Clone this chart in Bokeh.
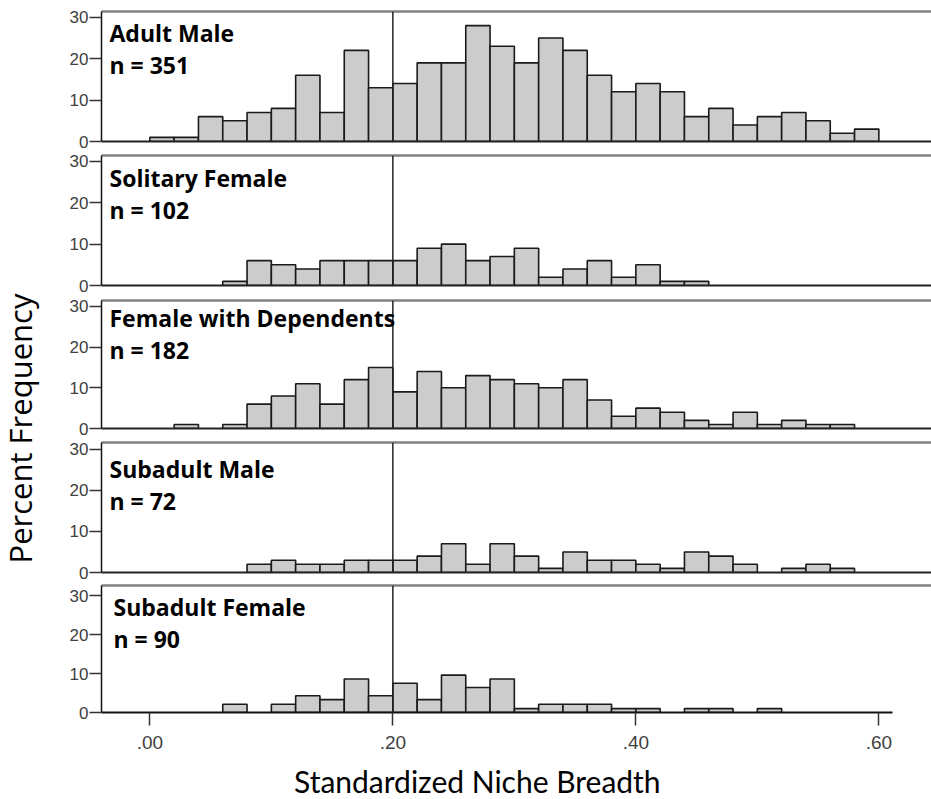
import math
from bokeh.plotting import figure
from bokeh.layouts import column, row
from bokeh.models import Range1d, Span, Label, LinearAxis, FixedTicker, ColumnDataSource
from bokeh.embed import file_html
from bokeh.resources import INLINE

# ---------------- data ----------------
BIN_START = [0.00, 0.02, 0.04, 0.06, 0.08, 0.10, 0.12, 0.14, 0.16, 0.18,
             0.20, 0.22, 0.24, 0.26, 0.28, 0.30, 0.32, 0.34, 0.36, 0.38,
             0.40, 0.42, 0.44, 0.46, 0.48, 0.50, 0.52, 0.54, 0.56, 0.58]
BIN_WIDTH = 0.02

GROUPS = ["Adult Male", "Solitary Female", "Female with Dependents",
          "Subadult Male", "Subadult Female"]
N_LABELS = ["n = 351", "n = 102", "n = 182", "n = 72", "n = 90"]

ADULT_MALE = [1, 1, 6, 5, 7, 8, 16, 7, 22, 13, 14, 19, 19, 28, 23,
              19, 25, 22, 16, 12, 14, 12, 6, 8, 4, 6, 7, 5, 2, 3]
SOLITARY_FEMALE = [0, 0, 0, 1, 6, 5, 4, 6, 6, 6, 6, 9, 10, 6, 7,
                   9, 2, 4, 6, 2, 5, 1, 1, 0, 0, 0, 0, 0, 0, 0]
FEMALE_WITH_DEPENDENTS = [0, 1, 0, 1, 6, 8, 11, 6, 12, 15, 9, 14, 10, 13, 12,
                          11, 10, 12, 7, 3, 5, 4, 2, 1, 4, 1, 2, 1, 1, 0]
SUBADULT_MALE = [0, 0, 0, 0, 2, 3, 2, 2, 3, 3, 3, 4, 7, 2, 7,
                 4, 1, 5, 3, 3, 2, 1, 5, 4, 2, 0, 1, 2, 1, 0]
SUBADULT_FEMALE = [0, 0, 0, 2.1, 0, 2.1, 4.3, 3.3, 8.6, 4.3, 7.5, 3.3, 9.6, 6.4, 8.6,
                   1.0, 2.1, 2.1, 2.1, 1.0, 1.0, 0, 1.0, 1.0, 0, 1.0, 0, 0, 0, 0]
SERIES = [ADULT_MALE, SOLITARY_FEMALE, FEMALE_WITH_DEPENDENTS, SUBADULT_MALE, SUBADULT_FEMALE]

Y_TICKS = [0, 10, 20, 30]
X_TICKS = [0.0, 0.2, 0.4, 0.6]
X_TICK_LABELS = [".00", ".20", ".40", ".60"]
REF_LINE = 0.20
X_TITLE = "Standardized Niche Breadth"
Y_TITLE = "Percent Frequency"

# ---------------- layout ----------------
LEFT_W = 41
MAIN_W = 890
BORDER_LEFT = 60
PPX = 1215.0                     # pixels per x unit
X_LEFT = -0.0398
X_RIGHT = X_LEFT + (MAIN_W - BORDER_LEFT) / PPX
X_AXIS_END = 0.6115

TOPS = [11, 4, 5, 4, 3]
FRAMES = [130, 130, 128, 130, 127]
BOTTOMS = [10, 10, 10, 10, 46]
Y_ENDS = [31.4, 31.4, 31.45, 31.7, 32.6]
XTITLE_H = 799 - sum(TOPS) - sum(FRAMES) - sum(BOTTOMS)
NAME_CY = [108.5, 108, 111, 104, 106]    # px above baseline (text middle)
N_CY = [76.5, 75.5, 79, 72, 73.5]
TEXT_DX = [8, 8, 8, 8, 12]

BAR_FILL = "#cccccc"
BAR_LINE = "#1a1a1a"
TICK_FONT = "Liberation Sans"
TEXT_FONT = "Open Sans"

x_range = Range1d(X_LEFT, X_RIGHT)


def blank_axis(color, width):
    return LinearAxis(ticker=FixedTicker(ticks=[]), major_label_text_font_size="0px",
                      major_tick_out=0, major_tick_in=0, minor_tick_out=0, minor_tick_in=0,
                      major_label_standoff=0, axis_line_color=color, axis_line_width=width)


def bare_figure(w, h, xr, yr):
    f = figure(width=w, height=h, x_range=xr, y_range=yr,
               output_backend="svg", toolbar_location=None,
               x_axis_location=None, y_axis_location=None,
               min_border_left=0, min_border_right=0, min_border_top=0, min_border_bottom=0)
    f.outline_line_color = None
    f.xgrid.visible = False
    f.ygrid.visible = False
    return f


figs = []
for i, (name, nlab, vals) in enumerate(zip(GROUPS, N_LABELS, SERIES)):
    last = i == len(GROUPS) - 1
    p = figure(width=MAIN_W, height=TOPS[i] + FRAMES[i] + BOTTOMS[i],
               x_range=x_range, y_range=Range1d(0, Y_ENDS[i]),
               output_backend="svg", toolbar_location=None,
               x_axis_location="below" if last else None, y_axis_location="left",
               min_border_left=BORDER_LEFT, min_border_right=0,
               min_border_top=TOPS[i], min_border_bottom=BOTTOMS[i])
    p.outline_line_color = None
    p.xgrid.visible = False
    p.ygrid.visible = False

    # y axis (default, left)
    ya = p.left[0]
    ya.ticker = FixedTicker(ticks=Y_TICKS)
    ya.major_tick_out = 12
    ya.major_tick_in = 0
    ya.minor_tick_out = 0
    ya.minor_tick_in = 0
    ya.axis_line_color = "#111111"
    ya.axis_line_width = 1.5
    ya.major_tick_line_color = "#333333"
    ya.major_tick_line_width = 1.5
    ya.major_label_standoff = 1
    ya.major_label_text_font = TICK_FONT
    ya.major_label_text_font_size = "17px"
    ya.major_label_text_color = "#404040"

    if last:
        xa = p.below[0]
        xa.ticker = FixedTicker(ticks=X_TICKS)
        xa.major_label_overrides = {t: l for t, l in zip(X_TICKS, X_TICK_LABELS)}
        xa.bounds = (X_LEFT, X_AXIS_END)
        xa.major_tick_out = 13
        xa.major_tick_in = 0
        xa.minor_tick_out = 0
        xa.minor_tick_in = 0
        xa.axis_line_color = "#111111"
        xa.axis_line_width = 2
        xa.major_tick_line_color = "#333333"
        xa.major_tick_line_width = 1.5
        xa.major_label_standoff = 10
        xa.major_label_text_font = TICK_FONT
        xa.major_label_text_font_size = "19px"
        xa.major_label_text_color = "#404040"
    else:
        p.add_layout(blank_axis("#222222", 2), "below")

    # top frame line
    p.add_layout(blank_axis("#808080", 2.5), "above")

    # bars
    lefts = [b for b, v in zip(BIN_START, vals) if v > 0]
    tops = [v for v in vals if v > 0]
    src = ColumnDataSource(dict(left=lefts, right=[l + BIN_WIDTH for l in lefts], top=tops))
    p.quad(left="left", right="right", bottom=0, top="top", source=src,
           fill_color=BAR_FILL, line_color=BAR_LINE, line_width=1.6)

    p.add_layout(Span(location=REF_LINE, dimension="height", line_color="#222222", line_width=1.5))

    ppu = FRAMES[i] / Y_ENDS[i]
    for txt, cy in ((name, NAME_CY[i]), (nlab, N_CY[i])):
        p.add_layout(Label(x=X_LEFT + TEXT_DX[i] / PPX, y=cy / ppu, text=txt,
                           text_font=TEXT_FONT, text_font_style="bold", text_font_size="23px",
                           text_color="black", text_baseline="middle"))
    figs.append(p)

# x-axis title strip
xt = bare_figure(MAIN_W, XTITLE_H, Range1d(0, MAIN_W), Range1d(0, XTITLE_H))
xt.add_layout(Label(x=403, y=799 - 780, text=X_TITLE,
                    text_font="Lato", text_font_size="30px", text_color="black",
                    text_align="center", text_baseline="middle"))

# y-axis title strip
left = bare_figure(LEFT_W, 799, Range1d(0, LEFT_W), Range1d(0, 799))
left.add_layout(Label(x=19, y=799 - 428, text=Y_TITLE, angle=math.pi / 2,
                      text_font=TEXT_FONT, text_font_size="31px", text_color="black",
                      text_align="center", text_baseline="middle"))

layout = row(left, column(*figs, xt, spacing=0), spacing=0)
open("out.html", "w").write(file_html(layout, INLINE))
